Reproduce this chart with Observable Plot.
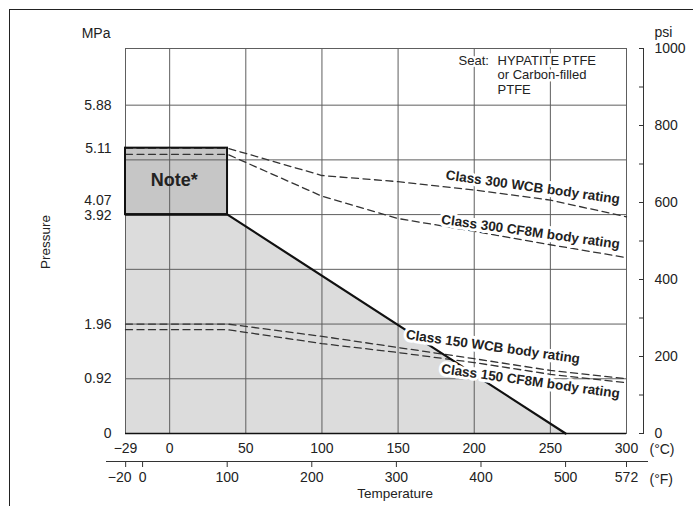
<!DOCTYPE html>
<html><head><meta charset="utf-8">
<script src="https://cdn.jsdelivr.net/npm/d3@7"></script>
<script src="https://cdn.jsdelivr.net/npm/@observablehq/plot@0.6"></script>
<style>
body{margin:0;background:#fff;font-family:"Liberation Sans",Arial,sans-serif;}
#wrap{position:relative;width:693px;height:506px;overflow:hidden;}
#chart{position:absolute;left:0;top:0;}
#border{position:absolute;left:9px;top:9px;width:740px;height:560px;border:1.5px solid #222;box-sizing:border-box;}
</style></head><body>
<div id="wrap"><div id="chart"></div><div id="border"></div></div>
<script>
// ---- data ----
const PSI_PER_MPA = 145.04;
const tempC = [-29, 38, 100, 150, 200, 250, 300];
const wcb300 = [5.11, 5.11, 4.62, 4.51, 4.36, 4.18, 3.88];
const cf8m300 = [5.00, 5.00, 4.25, 3.85, 3.62, 3.38, 3.15];
const wcb150 = [1.96, 1.96, 1.74, 1.54, 1.34, 1.13, 0.98];
const cf8m150 = [1.86, 1.86, 1.61, 1.45, 1.27, 1.06, 0.91];
const seriesNames = ["Class 300 WCB", "Class 300 CF8M", "Class 150 WCB", "Class 150 CF8M"];
const seatTemp = [-29, 38, 260];
const seatPressure = [3.92, 3.92, 0];
const noteTemp = [-29, 38];
const notePressure = [3.92, 5.11];
const gridTemps = [0, 50, 100, 150, 200, 250];
const gridPressures = [0.98, 1.96, 2.94, 3.92, 4.90, 5.88];
const yTicks = [0, 0.98, 1.96, 5.11, 5.88];
const yTickLabels = ["0", "0.92", "1.96", "5.11", "5.88"];
const yTickLow = [3.92];
const yTickHigh = [4.07];
const xTicks = [-29, 0, 50, 100, 150, 200, 250, 300];
const xTickLabels = ["\u221229", "0", "50", "100", "150", "200", "250", "300"];
const fTicks = [-20, 0, 100, 200, 300, 400, 500, 572];
const fTickLabels = ["\u221220", "0", "100", "200", "300", "400", "500", "572"];
const psiTicks = [0, 100, 200, 300, 400, 500, 600, 700, 800, 900, 1000];
const psiLabelled = [0, 200, 400, 600, 800, 1000];
const ratingLabels = ["Class 300 WCB body rating", "Class 300 CF8M body rating", "Class 150 WCB body rating", "Class 150 CF8M body rating"];
const ratingLabelT = [238.5, 237, 212.3, 237];
const ratingLabelP = [4.41, 3.61, 1.553, 0.935];
const seatLines = "HYPATITE PTFE\nor Carbon-filled\nPTFE";

// ---- build ----
const yMax = 1000 / PSI_PER_MPA;
const toC = f => (f - 32) * 5 / 9;
const allSeries = [wcb300, cf8m300, wcb150, cf8m150];
const dashed = allSeries.flatMap((s, k) => s.map((p, i) => ({series: seriesNames[k], t: tempC[i], p})));
const seat = seatTemp.map((t, i) => ({t, p: seatPressure[i]}));
const note = [{t1: noteTemp[0], t2: noteTemp[1], p1: notePressure[0], p2: notePressure[1]}];
const yLab = new Map(yTicks.map((v, i) => [v, yTickLabels[i]]));
const xLab = new Map(xTicks.map((v, i) => [v, xTickLabels[i]]));
const fC = fTicks.map(toC);
const fLab = new Map(fC.map((v, i) => [v, fTickLabels[i]]));
const labels = ratingLabels.map((text, i) => ({text, t: ratingLabelT[i], p: ratingLabelP[i]}));
const grey = "#5e5e5e";

const chart = Plot.plot({
  width: 693, height: 506,
  marginLeft: 125, marginRight: 67, marginTop: 48, marginBottom: 73,
  style: {fontFamily: "'Liberation Sans', Arial, sans-serif", fontSize: "14px", background: "transparent", color: "#222"},
  x: {domain: [-29, 300]},
  y: {domain: [0, yMax]},
  marks: [
    Plot.areaY(seat, {x: "t", y: "p", fill: "#dcdcdc"}),
    Plot.rect(note, {x1: "t1", x2: "t2", y1: "p1", y2: "p2", fill: "#c6c6c6"}),
    Plot.ruleX(gridTemps, {stroke: grey, strokeWidth: 1}),
    Plot.ruleY(gridPressures, {stroke: grey, strokeWidth: 1}),
    Plot.frame({stroke: grey, strokeWidth: 1}),
    Plot.ruleY([0], {stroke: "#111", strokeWidth: 1.5}),
    Plot.line(dashed, {x: "t", y: "p", z: "series", stroke: "#333", strokeWidth: 1.3, strokeDasharray: "7,4.5"}),
    Plot.rect(note, {x1: "t1", x2: "t2", y1: "p1", y2: "p2", fill: "none", stroke: "#111", strokeWidth: 2}),
    Plot.line(seat, {x: "t", y: "p", stroke: "#111", strokeWidth: 2.2}),
    Plot.text(["Note*"], {x: 3, y: 4.53, fontSize: 18, fontWeight: "bold", fill: "#222"}),
    Plot.text(labels, {x: "t", y: "p", text: "text", rotate: 8, fontSize: 13.5, fontWeight: "bold", fill: "#222", stroke: "white", strokeWidth: 6}),
    Plot.text(["Seat:"], {x: 189.7, y: 6.77, lineAnchor: "top", textAnchor: "start", fontSize: 13, fill: "#222", stroke: "white", strokeWidth: 5}),
    Plot.text([seatLines], {x: 215.3, y: 6.77, lineAnchor: "top", textAnchor: "start", lineHeight: 1.08, fontSize: 13, fill: "#222", stroke: "white", strokeWidth: 5}),
    // left MPa axis
    Plot.axisY({ticks: yTicks, tickFormat: d => yLab.get(d), tickSize: 0, tickPadding: 14, fontSize: 14, label: null}),
    Plot.axisY({ticks: yTickLow, tickFormat: d => d.toFixed(2), tickSize: 0, tickPadding: 14, dy: 1, fontSize: 14, label: null}),
    Plot.axisY({ticks: yTickHigh, tickFormat: d => d.toFixed(2), tickSize: 0, tickPadding: 14, dy: -6, fontSize: 14, label: null}),
    Plot.text(["MPa"], {x: -29, y: yMax, dx: -15, dy: -14.5, textAnchor: "end", fontSize: 14}),
    Plot.text(["Pressure"], {x: -29, y: 3.43, dx: -80, rotate: -90, fontSize: 13.5}),
    // right psi axis
    Plot.ruleX([300], {dx: 17, stroke: "#333", strokeWidth: 1}),
    Plot.axisY({anchor: "right", ticks: psiTicks.map(p => p / PSI_PER_MPA), tickFormat: d => {const p = Math.round(d * PSI_PER_MPA); return psiLabelled.includes(p) ? String(p) : "";}, tickSize: 5, tickPadding: 11, dx: 12, fontSize: 14, stroke: "#333", label: null}),
    Plot.text(["psi"], {x: 300, y: yMax, dx: 28, dy: -16, textAnchor: "start", fontSize: 14}),
    // bottom °C axis
    Plot.axisX({ticks: xTicks, tickFormat: d => xLab.get(d), tickSize: 0, tickPadding: 10, fontSize: 14, label: null}),
    Plot.text(["(\u00b0C)"], {x: 300, y: 0, dx: 23, dy: 16, textAnchor: "start", fontSize: 14}),
    // bottom °F axis
    Plot.ruleY([0], {dy: 28, insetLeft: -19, insetRight: -22, stroke: "#333", strokeWidth: 1}),
    Plot.axisX({ticks: fC, tickFormat: d => (d === fC[0] ? "" : fLab.get(d)), tickSize: 6, tickPadding: 5, dy: 28, fontSize: 14, stroke: "#333", label: null}),
    Plot.axisX({ticks: [fC[0]], tickFormat: () => fTickLabels[0], tickSize: 6, tickPadding: 5, dy: 28, dx: -6, fontSize: 14, stroke: "none", label: null}),
    Plot.text(["(\u00b0F)"], {x: 300, y: 0, dx: 23, dy: 46, textAnchor: "start", fontSize: 14}),
    Plot.text(["Temperature"], {x: 148, y: 0, dx: 0, dy: 60, fontSize: 13.5})
  ]
});
document.getElementById("chart").appendChild(chart);
</script>
</body></html>
